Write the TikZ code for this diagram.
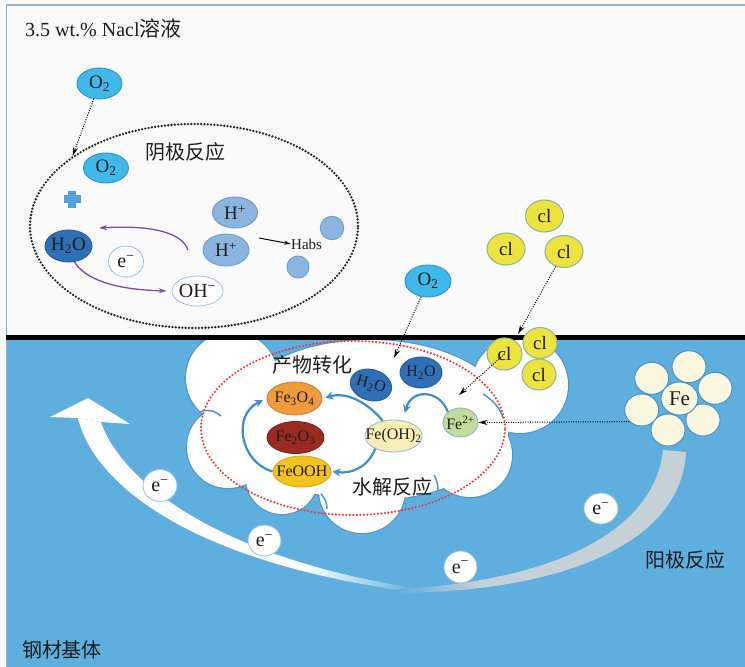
\documentclass[tikz,border=0pt]{standalone}
\usepackage{fontspec}
\setmainfont{Liberation Serif}
\newfontfamily\cjk{Noto Sans CJK SC}
\usetikzlibrary{arrows.meta,shapes.geometric}

\newcommand{\fsz}[1]{\fontsize{#1}{#1}\selectfont}
\newcommand{\zt}[1]{\makebox[0pt]{#1}}
\newcommand{\eminus}{e\textsuperscript{−}}

\definecolor{bgblue}{HTML}{5EAEDE}
\definecolor{topwhite}{HTML}{FAFAFA}
\definecolor{framec}{HTML}{8FB4D2}
\definecolor{txt}{HTML}{1E1E1E}
\definecolor{oxy}{HTML}{3FB9EA}
\definecolor{oxyd}{HTML}{2B95C9}
\definecolor{water}{HTML}{2F6FB6}
\definecolor{waterd}{HTML}{285E9C}
\definecolor{hplus}{HTML}{8BB4DE}
\definecolor{hplusd}{HTML}{6E9CCB}
\definecolor{eedge}{HTML}{6AA6D3}
\definecolor{plusc}{HTML}{4FA3DA}
\definecolor{purp}{HTML}{7B4DA0}
\definecolor{chl}{HTML}{ECE43C}
\definecolor{chld}{HTML}{93B59E}
\definecolor{magn}{HTML}{EF9A3B}
\definecolor{hema}{HTML}{9A2B23}
\definecolor{goet}{HTML}{F4C31E}
\definecolor{hydr}{HTML}{F6EEB5}
\definecolor{ferr}{HTML}{C4DC9B}
\definecolor{metal}{HTML}{FBF6DE}
\definecolor{metald}{HTML}{3F8FCB}
\definecolor{cloudedge}{HTML}{4F95CD}
\definecolor{flow}{HTML}{3F8DCB}
\definecolor{ringred}{HTML}{E83A3F}
\definecolor{bandgray}{HTML}{C6D0D7}

% electron-flow band: white fading into the substrate, grey rising to the anode
\pgfdeclarehorizontalshading{whitefade}{100bp}{color(0bp)=(white); color(25bp)=(white); color(58bp)=(white); color(75bp)=(bgblue); color(100bp)=(bgblue)}
\pgfdeclarehorizontalshading{grayfade}{100bp}{color(0bp)=(bgblue); color(25bp)=(bgblue); color(40bp)=(bandgray); color(100bp)=(bandgray)}

\begin{document}
\begin{tikzpicture}[x=1pt,y=-1pt,
  ion/.style={ellipse,inner sep=0pt,line width=0.9pt,text=txt},
  sz/.style 2 args={minimum width=#1pt,minimum height=#2pt},
  lbl/.style={font=\cjk\fsz{20},text=txt,inner sep=0pt},
  dotarrow/.style={line width=1pt,dash pattern=on 1pt off 1.4pt,-{Stealth[length=9pt,width=5pt]}},
  purparrow/.style={purp,line width=1.3pt,-{Stealth[length=8pt,width=5pt]}},
  flowarrow/.style={flow,line width=2.2pt,-{Stealth[length=8pt,width=8pt]}},
  cloudarc/.style={cloudedge,line width=1.5pt},
  elec/.style={ion,fill=white,draw=eedge!70,line width=0.8pt,font=\fsz{20}},
  oxygen/.style={ion,fill=oxy,draw=oxyd,font=\fsz{19}},
  chloride/.style={ion,fill=chl,draw=chld,line width=1.1pt,font=\fsz{19}},
  proton/.style={ion,fill=hplus,draw=hplusd,font=\fsz{19}},
  petal/.style={ion,fill=metal,draw=metald,sz={34}{32}},
  product/.style={ion,font=\fsz{16}},
  dotring/.style={ellipse,inner sep=0pt,line width=2.6pt,line cap=round,dash pattern=on 0pt off 3.3pt}
]
\useasboundingbox (0,0) rectangle (745,667);

% solution above, steel substrate below
\fill[topwhite] (0,0) rectangle (745,667);
\fill[bgblue] (7,339) rectangle (745,667);
\draw[framec,line width=1.6pt] (6.5,667) -- (6.5,5) -- (745,5);

% electron flow through the steel
\shade[shading=whitefade] (78,418) .. controls (92,478) and (180,562) .. (420,593)
   -- (420,589) .. controls (205,556) and (118,474) .. (101,422) -- cycle;
\fill[white] (88,398) -- (130,424) -- (101,422) -- (78,418) -- (50,417) -- cycle;
\shade[shading=grayfade] (686,452) .. controls (682,540) and (570,592) .. (395,593)
   -- (395,589) .. controls (555,582) and (655,530) .. (663,450) -- cycle;

% corrosion pit (cloud)
\begin{scope}
  \clip (0,337) rectangle (745,667);
  \foreach \cx/\cy/\r in {232/378/46, 228/447/41, 282/478/36, 362/490/43, 470/455/42, 520/385/48}
    \draw[cloudedge,line width=2.2pt] (\cx,\cy) circle[radius=\r pt];
  \draw[cloudedge,line width=2.2pt] (370,420) ellipse[x radius=140pt,y radius=80pt];
  \foreach \cx/\cy/\r in {232/378/46, 228/447/41, 282/478/36, 362/490/43, 470/455/42, 520/385/48}
    \fill[white] (\cx,\cy) circle[radius=\r pt];
  \fill[white] (370,420) ellipse[x radius=140pt,y radius=80pt];
  \draw[cloudarc] (200,412) .. controls (207,409) and (214,410) .. (221,416);
  \draw[cloudarc] (321,494) .. controls (325,498) and (327,503) .. (327,509);
  \draw[cloudarc] (434,475) .. controls (437,480) and (438,485) .. (438,491);
  \draw[cloudarc] (483,394) .. controls (493,400) and (500,408) .. (503,418);
\end{scope}

\node[dotring,draw=ringred,line width=2.4pt,dash pattern=on 0pt off 3.5pt,
      minimum width=304pt,minimum height=174pt] (redring) at (353,428) {};

% metal / solution interface
\draw[line width=5pt] (6,337.5) -- (745,337.5);

\node[anchor=west,inner sep=0pt,text=txt] (title) at (25,28)
  {\fsz{20}3.5 wt.\% Nacl\cjk\fsz{21}溶液};

% cathodic reaction
\node[dotring,draw=black!85,minimum width=328pt,minimum height=204pt] (cathode) at (194,226) {};
\node[lbl] (cathodelbl) at (185,152) {阴极反应};
\node[oxygen,sz={45}{31}] (o2a) at (99.5,83.5) {\zt{O\textsubscript{2}}};
\node[oxygen,sz={45}{30}] (o2b) at (106,168) {\zt{O\textsubscript{2}}};
\coordinate (plus) at (72,199);
\fill[plusc] (plus) ++(-8.5,-3.6) rectangle ++(17,7.2);
\fill[plusc] (plus) ++(-3.6,-8.5) rectangle ++(7.2,17);
\node[ion,fill=water,draw=waterd,sz={47}{32},font=\fsz{19}] (h2oa) at (68.5,246) {\zt{H\textsubscript{2}O}};
\node[elec,sz={35}{31}] (ea) at (126,261.5) {\zt{\eminus}};
\node[elec,sz={51}{30}] (oh) at (197.5,291) {\zt{OH\textsuperscript{−}}};
\node[proton,sz={45}{31}] (hp1) at (235,212.5) {\zt{H\textsuperscript{+}}};
\node[proton,sz={46}{32}] (hp2) at (226,250) {\zt{H\textsuperscript{+}}};
\node[ion,fill=hplus,draw=hplusd,sz={23.5}{23.5}] (sm1) at (332,228) {};
\node[ion,fill=hplus,draw=hplusd,sz={22}{22}] (sm2) at (298,267) {};
\node[anchor=west,inner sep=0pt,text=txt,font=\fsz{15}] (habs) at (291,244) {Habs};
\coordinate (hout) at (259,238);
\draw[line width=1pt,-{Stealth[length=7pt,width=4pt]}] (hout) -- (habs.west);
\coordinate (pua) at (188,250);
\coordinate (pub) at (99,228);
\draw[purparrow] (pua) .. controls (182,232) and (150,225) .. (pub);
\draw[purparrow,shorten >=5pt] (h2oa.290) .. controls (88,283) and (125,290) .. (oh.west);
\draw[dotarrow] (o2a) -- (cathode.150);

% chloride and oxygen in the solution
\node[chloride,sz={38}{32}] (cl1) at (544.5,216) {\zt{cl}};
\node[chloride,sz={38}{32}] (cl2) at (506,249) {\zt{cl}};
\node[chloride,sz={38}{32}] (cl3) at (564,251.5) {\zt{cl}};
\node[oxygen,sz={46}{32}] (o2c) at (428,281) {\zt{O\textsubscript{2}}};
\node[chloride,sz={35}{32}] (cl4) at (504.5,354) {\zt{cl}};
\node[chloride,sz={34}{31}] (cl5) at (540,343) {\zt{cl}};
\node[chloride,sz={34}{31}] (cl6) at (539,374.5) {\zt{cl}};
\coordinate (o2tip) at (394,358);
\coordinate (cltip) at (518,334);
\coordinate (fetip) at (459,395);
\draw[dotarrow] (o2c) -- (o2tip);
\draw[dotarrow] (cl3) -- (cltip);
\draw[dotarrow] (cl4.center) -- (fetip);

% products inside the pit
\node[lbl] (prodlbl) at (312,364.5) {产物转化};
\node[lbl] (hydrolbl) at (392,487) {水解反应};
\node[product,fill=water,draw=waterd,sz={42}{31},rotate=-16] (h2ob) at (371,385)
  {\zt{H\kern0.5pt\textsubscript{2}O}};
\node[product,fill=water,draw=waterd,sz={42}{31}] (h2oc) at (421,372.5) {\zt{H\textsubscript{2}O}};
\node[product,fill=magn,draw=magn!85!black,sz={55}{33}] (fe3o4) at (294.5,398.5) {\zt{Fe\textsubscript{3}O\textsubscript{4}}};
\node[product,fill=hema,draw=hema!85!black,sz={57}{32}] (fe2o3) at (295.5,437.5) {\zt{Fe\textsubscript{2}O\textsubscript{3}}};
\node[product,fill=goet,draw=goet!85!black,sz={58}{31}] (feooh) at (302,471.5) {\zt{FeOOH}};
\node[product,fill=hydr,draw=hplusd!70,sz={57}{32}] (feoh2) at (393.5,436) {\zt{Fe(OH)\textsubscript{2}}};
\node[product,fill=ferr,draw=hplusd!80,sz={35}{29}] (fe2) at (460.5,422.5) {\zt{Fe\textsuperscript{2+}}};

\draw[flowarrow,shorten >=3pt] (feoh2.125) .. controls (365,400) and (345,392) .. (fe3o4.east);
\draw[flowarrow,shorten >=8pt] (fe2.140) .. controls (440,390) and (412,388) .. (feoh2.60);
\draw[flowarrow,shorten >=1pt] (feoh2.215) .. controls (368,467) and (352,474) .. (feooh.east);
\draw[flowarrow,shorten >=4pt] (feooh.west) .. controls (240,462) and (232,415) .. (fe3o4.west);

% iron at the anode
\node[petal] (p1) at (651.7,378.3) {};
\node[petal] (p2) at (689,366.7) {};
\node[petal] (p3) at (715,388.3) {};
\node[petal] (p4) at (703,420) {};
\node[petal] (p5) at (668,430) {};
\node[petal] (p6) at (641.7,410) {};
\node[ion,fill=metal,draw=metald,sz={37}{33},font=\fsz{21}] (fec) at (679.5,398.5) {\zt{Fe}};
\draw[dotarrow] (p6.south west) -- (fe2.east);

% electrons in the steel
\node[elec,sz={34}{32}] (e1) at (160,485.5) {\zt{\eminus}};
\node[elec,sz={33}{31}] (e2) at (264.5,540.5) {\zt{\eminus}};
\node[elec,sz={33}{32}] (e3) at (460.5,567) {\zt{\eminus}};
\node[elec,sz={34}{31}] (e4) at (601,508.5) {\zt{\eminus}};

\node[lbl] (anodelbl) at (685,560) {阳极反应};
\node[lbl] (steellbl) at (62,650) {钢材基体};
\end{tikzpicture}
\end{document}
